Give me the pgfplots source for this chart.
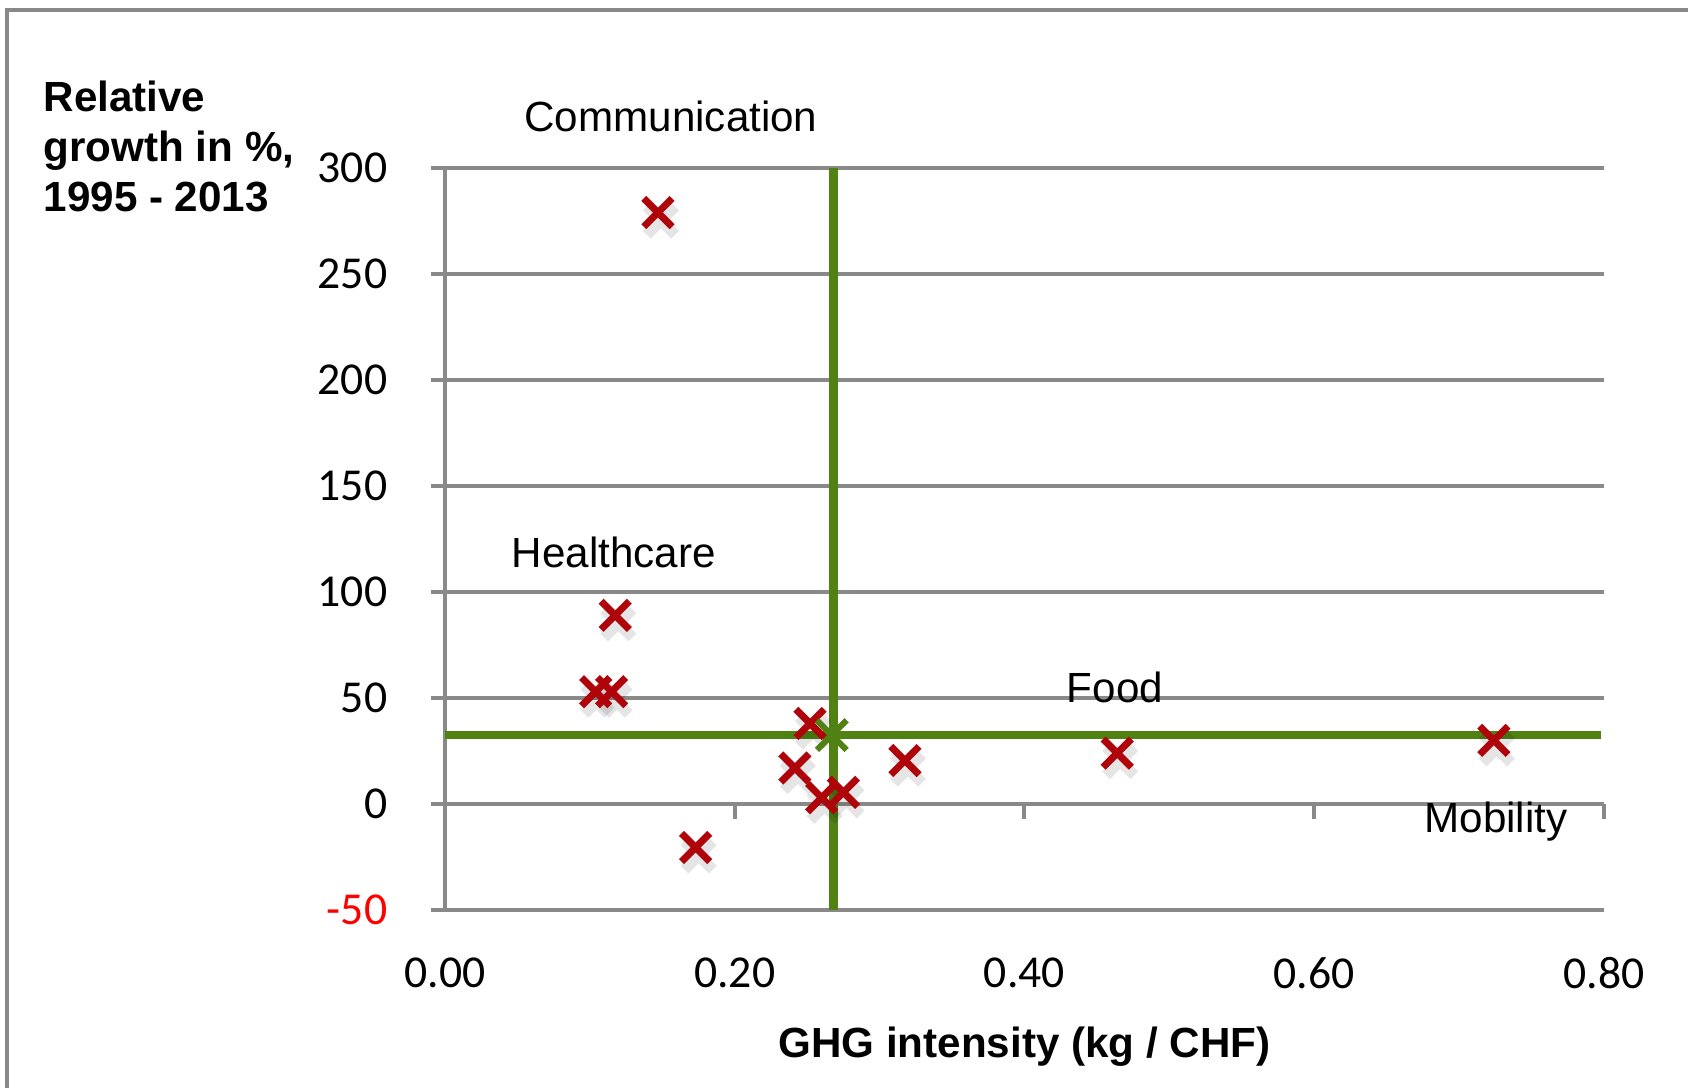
\documentclass[border=0pt]{standalone}
\usepackage{pgfplots}
\pgfplotsset{compat=1.18}
\usepackage{pgfplotstable}
\usepackage{fontspec}
\setmainfont{Liberation Sans}
\newfontfamily\carlito{Carlito}
\definecolor{gridgray}{RGB}{137,137,137}
\definecolor{markred}{RGB}{175,5,10}
\definecolor{meangreen}{RGB}{79,129,19}
\pgfplotstableread{
x y
0.147 279
0.1175 89
0.104 53
0.115 53
0.252 38
0.2415 17
0.260 3
0.275 5.5
0.3175 20.5
0.1730 -20.5
0.464 24
0.724 30
}\pointdata
\begin{document}
\begin{tikzpicture}
\useasboundingbox (-44.5mm,-17.8mm) rectangle (124.3mm,91.0mm);
\fill[white] (-44.5mm,-17.8mm) rectangle (124.3mm,91.0mm);
\draw[gridgray, line width=0.35mm] (-43.8mm,-18mm) -- (-43.8mm,90.0mm) -- (125mm,90.0mm);
\begin{axis}[
  at={(0,0)}, anchor=south west,
  scale only axis,
  width=115.9mm, height=74.2mm,
  xmin=0, xmax=0.8, ymin=-50, ymax=300,
  clip=false,
  axis x line*=bottom,
  x axis line style={draw=none},
  axis y line*=left,
  y axis line style={-, gridgray, line width=0.4mm},
  xtick={0,0.2,0.4,0.6,0.8},
  xticklabels={0.00,0.20,0.40,0.60,0.80},
  ytick={-50,0,50,100,150,200,250,300},
  yticklabels={\textcolor{red}{-50},0,50,100,150,200,250,300},
  xtick style={draw=none},
  ytick style={gridgray, line width=0.4mm},
  tick align=outside,
  major tick length=1.4mm,
  ymajorgrids,
  major grid style={gridgray, line width=0.4mm},
  tick label style={font=\carlito\fontsize{13}{13}\selectfont, inner sep=0pt},
  yticklabel style={anchor=east, xshift=-4.3mm},
  xticklabel style={anchor=north, yshift=-3.3mm},
]
% tick marks on the zero line
\draw[gridgray, line width=0.4mm] (axis cs:0.2,0) -- ([yshift=-1.5mm]axis cs:0.2,0);
\draw[gridgray, line width=0.4mm] (axis cs:0.4,0) -- ([yshift=-1.5mm]axis cs:0.4,0);
\draw[gridgray, line width=0.4mm] (axis cs:0.6,0) -- ([yshift=-1.5mm]axis cs:0.6,0);
\draw[gridgray, line width=0.4mm] (axis cs:0.8,0) -- ([yshift=-1.5mm]axis cs:0.8,0);
% shadows
\addplot[only marks, mark=x, mark size=2mm, draw=black, opacity=0.10, line width=1.1mm,
  mark options={xshift=0.3mm, yshift=-0.8mm}] table {\pointdata};
% mean lines
\addplot[meangreen, line width=0.85mm] coordinates {(0.268,-50) (0.268,300)};
\addplot[meangreen, line width=0.8mm] coordinates {(0,32.5) (0.798,32.5)};
% points
\addplot[only marks, mark=x, mark size=2mm, draw=markred, line width=0.7mm] table {\pointdata};
% mean point
\addplot[only marks, mark=x, mark size=2.1mm, draw=meangreen, line width=0.6mm] coordinates {(0.267,32.5)};
% annotations
\node[anchor=base, font=\fontsize{12}{14}\selectfont] at (axis cs:0.156,317) {Communication};
\node[anchor=base, font=\fontsize{12}{14}\selectfont] at (axis cs:0.1166,111.6) {Healthcare};
\node[anchor=base, font=\fontsize{12}{14}\selectfont] at (axis cs:0.4625,48) {Food};
\node[anchor=base, font=\fontsize{12}{14}\selectfont] at (axis cs:0.7255,-13.5) {Mobility};
\end{axis}
\node[anchor=north west, align=left, inner sep=0pt, font=\bfseries\fontsize{12}{14.2}\selectfont] at (-40.2mm,83.0mm) {Relative\\growth in \%,\\1995 - 2013};
\node[anchor=base, inner sep=0pt, font=\bfseries\fontsize{12}{14}\selectfont] at (57.95mm,-14.7mm) {GHG intensity (kg / CHF)};
\end{tikzpicture}
\end{document}
